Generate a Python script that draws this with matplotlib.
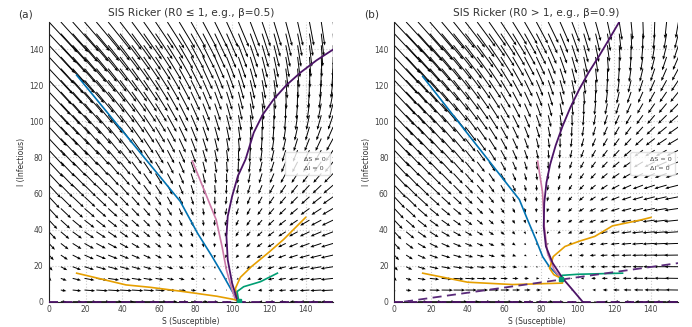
import numpy as np
import matplotlib
matplotlib.use("Agg")
import matplotlib.pyplot as plt
from matplotlib.lines import Line2D

# model parameters used for the direction field
K = 103.5
surv = 0.69      # density-independent part of S carry-over
c_dens = 0.022   # density dependence of recruitment
kappa = 0.67     # weight of infection loss from S
c_rec = 0.5      # recovery flow back to S
gamma = 0.79
betas = [0.5, 0.9]
titles = ["SIS Ricker (R0 \u2264 1, e.g., \u03b2=0.5)", "SIS Ricker (R0 > 1, e.g., \u03b2=0.9)"]
panel_tags = ["(a)", "(b)"]

# trajectories, panel (a)
a_blue_S = [15.1, 71.6, 81.0, 89.0, 94.5, 99.5, 102.5, 103.5]
a_blue_I = [125.5, 55.6, 38.0, 25.0, 15.5, 6.5, 1.5, 0.3]
a_pink_S = [78.2, 91.2, 94.4, 96.8, 99.9, 101.7, 103.5]
a_pink_I = [78.0, 45.4, 30.6, 17.6, 6.5, 1.0, 0.3]
a_orlo_S = [15.1, 42.0, 55.0, 73.4, 91.7, 101.0, 103.5]
a_orlo_I = [15.8, 9.3, 8.0, 5.6, 3.0, 1.2, 0.3]
a_orhi_S = [140.0, 128.0, 119.5, 110.5, 104.4, 101.7, 102.5, 103.5]
a_orhi_I = [46.7, 34.5, 27.0, 19.5, 13.5, 7.4, 2.0, 0.3]
a_green_S = [124.6, 115.4, 106.2, 102.6, 103.5]
a_green_I = [15.8, 11.1, 8.3, 5.6, 0.4]
a_null_S = [103.0, 99.9, 97.5, 96.8, 97.5, 99.9, 103.0, 107.2, 111.7, 116.5, 122.6, 129.5, 137.2, 146.0, 155.4]
a_null_I = [0.0, 10.2, 23.2, 36.2, 47.3, 58.4, 69.5, 78.8, 93.7, 103.5, 112.2, 120.0, 127.0, 133.8, 140.0]

# panel (b)
b_blue_S = [15.5, 68.2, 72.7, 77.3, 80.9, 84.5, 89.1, 90.9]
b_blue_I = [124.8, 56.6, 45.4, 34.3, 25.0, 19.5, 14.8, 13.0]
b_pink_S = [78.2, 80.9, 81.8, 83.6, 87.2, 90.9]
b_pink_I = [77.9, 60.3, 41.7, 26.9, 17.6, 13.0]
b_orlo_S = [15.5, 40.0, 64.5, 91.8, 91.0]
b_orlo_I = [15.8, 10.8, 9.5, 10.3, 12.8]
b_orhi_S = [140.0, 134.9, 119.0, 109.4, 100.9, 93.1, 86.7, 84.7, 87.0, 90.9]
b_orhi_I = [46.7, 45.4, 42.0, 36.2, 33.5, 30.6, 25.0, 18.5, 15.0, 13.0]
b_green_S = [124.5, 100.3, 91.5, 90.9]
b_green_I = [15.8, 15.2, 14.6, 12.8]
b_null_S = [102.7, 97.3, 91.8, 86.4, 82.7, 81.5, 81.8, 83.0, 85.0, 88.0, 91.8, 96.0, 100.9, 106.0, 111.8, 117.5, 123.1]
b_null_I = [0.0, 6.5, 13.0, 21.4, 30.6, 41.7, 54.7, 66.0, 76.0, 86.5, 97.3, 107.5, 117.7, 127.0, 136.3, 146.0, 155.7]
b_dnull_S = [5.3, 155.0]
b_dnull_I = [0.0, 21.4]

trajs = [
    [(a_blue_S, a_blue_I), (a_pink_S, a_pink_I), (a_orlo_S, a_orlo_I),
     (a_orhi_S, a_orhi_I), (a_green_S, a_green_I)],
    [(b_blue_S, b_blue_I), (b_pink_S, b_pink_I), (b_orlo_S, b_orlo_I),
     (b_orhi_S, b_orhi_I), (b_green_S, b_green_I)],
]
colors = ["#0072B2", "#CC79A7", "#E69F00", "#E69F00", "#009E73"]
null_solid = [(a_null_S, a_null_I), (b_null_S, b_null_I)]
null_dash = [None, (b_dnull_S, b_dnull_I)]
purple = "#4b1366"


def step(S, I, beta):
    N = np.where(S + I > 0, S + I, 1e-9)
    b = (1 - surv) * np.exp(c_dens * K)
    phi = surv + b * np.exp(-c_dens * N)
    S1 = phi * S - kappa * S * (1 - np.exp(-beta * I / N)) + c_rec * I
    I1 = I * np.exp(beta * S / N - gamma)
    return S1 - S, I1 - I


grid = np.linspace(0, 155, 25)
SS, II = np.meshgrid(grid, grid)

fig = plt.figure(figsize=(6.92, 3.27), dpi=100)
lefts = [0.0708, 0.5698]
tag_x = [0.026, 0.526]
for k in range(2):
    ax = fig.add_axes([lefts[k], 0.0774, 0.4106, 0.8554])
    dS, dI = step(SS, II, betas[k])
    ax.quiver(SS, II, dS, dI, angles='xy', scale_units='xy', scale=5,
              width=0.0034, headwidth=3.2, headlength=3.8, headaxislength=3.4,
              color='black', zorder=2)
    for (xs, ys), c in zip(trajs[k], colors):
        ax.plot(xs, ys, color=c, lw=1.2, zorder=3)
    ax.plot(trajs[k][4][0][-1], trajs[k][4][1][-1], 's', color=colors[4], ms=3, zorder=4)
    ax.plot(null_solid[k][0], null_solid[k][1], color=purple, lw=1.3, zorder=3)
    ax.plot([0, 155], [0, 0], color=purple, lw=1.3, ls=(0, (5, 3)), zorder=3, clip_on=False)
    if null_dash[k] is not None:
        ax.plot(null_dash[k][0], null_dash[k][1], color="#5a2a7a", lw=1.3,
                ls=(0, (5, 3)), zorder=3)
    ax.set_xlim(0, 155)
    ax.set_ylim(0, 155)
    ax.set_xticks(range(0, 141, 20))
    ax.set_yticks(range(0, 141, 20))
    ax.grid(True, color='#cccccc', ls=':', lw=0.8, zorder=0)
    for sp in ['top', 'right']:
        ax.spines[sp].set_visible(False)
    for sp in ['left', 'bottom']:
        ax.spines[sp].set_color('#222222')
        ax.spines[sp].set_linewidth(0.8)
    ax.tick_params(labelsize=5.5, colors='#444444', length=0)
    ax.tick_params(axis='x', pad=2.5)
    ax.tick_params(axis='y', pad=4)
    ax.set_xlabel("S (Susceptible)", fontsize=5.5, color='#333333', labelpad=2)
    ax.set_ylabel("I (Infectious)", fontsize=5.5, color='#333333', labelpad=2)
    ax.set_title(titles[k], fontsize=7.6, color='#333333', pad=4)
    handles = [Line2D([], [], color='none'), Line2D([], [], color='none')]
    ax.legend(handles, ["\u0394S = 0", "\u0394I = 0"], loc='upper right',
              bbox_to_anchor=(1.0, 0.545), fontsize=4.6, framealpha=0.8,
              edgecolor='#dddddd', handlelength=1.6, borderpad=0.6,
              labelspacing=0.6, labelcolor='#444444')
    fig.text(tag_x[k], 0.948, panel_tags[k], fontsize=7.6, color='#333333')

fig.savefig("out.png", dpi=100)
